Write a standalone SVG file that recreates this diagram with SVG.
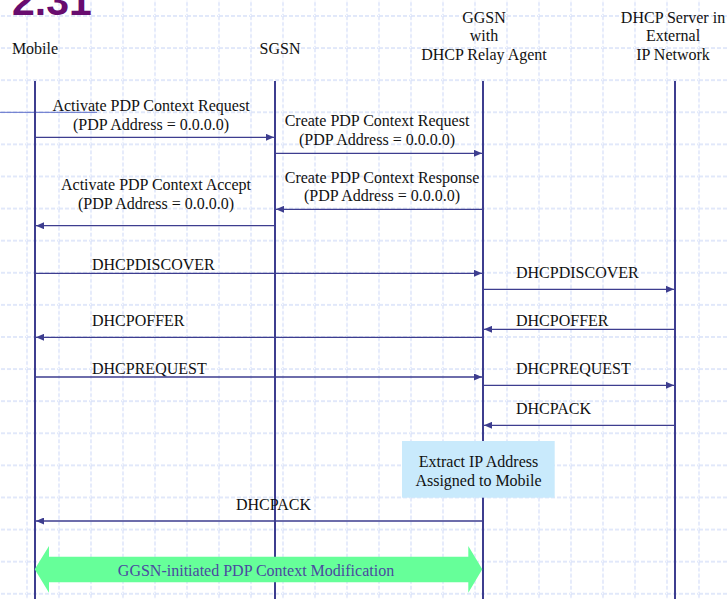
<svg xmlns="http://www.w3.org/2000/svg" width="727" height="599" viewBox="0 0 727 599">
<style>
  text { font-family: "Liberation Serif", "Times New Roman", serif; font-size: 16px; fill: #111; }
  .mid { text-anchor: middle; }
  .life { stroke: #3d3d8f; stroke-width: 2; fill: none; }
  .msg { stroke: #3d3d8f; stroke-width: 1.3; fill: none; marker-end: url(#ah); }
  .gridline { stroke: #d8e1f9; stroke-width: 1.3; stroke-dasharray: 4 2; fill: none; }
  .title { font-family: "Liberation Sans", Arial, sans-serif; font-weight: bold; font-size: 41px; fill: #680c6e; }
  .proc { fill: #4a4aa0; }
</style>
<defs>
  <pattern id="grid" x="26" y="15" width="32" height="32.1" patternUnits="userSpaceOnUse">
    <path class="gridline" d="M1 1 H33 M1 1 V33.1"/>
  </pattern>
  <marker id="ah" viewBox="0 0 8 7" refX="8" refY="3.5" markerWidth="8" markerHeight="7" markerUnits="userSpaceOnUse" orient="auto">
    <path d="M0 0 L8 3.5 L0 7 Z" fill="#3d3d8f"/>
  </marker>
</defs>
<rect width="727" height="599" fill="#ffffff"/>
<rect width="727" height="599" fill="url(#grid)"/>
<text class="title" x="12" y="15">2.31</text>
<line x1="0" y1="112.3" x2="97" y2="112.3" stroke="#5b6bc9" stroke-width="1"/>

<g id="mobile">
  <text class="mid" x="35" y="54">Mobile</text>
  <line class="life" x1="35" y1="81" x2="35" y2="599"/>
</g>
<g id="sgsn">
  <text class="mid" x="280" y="54">SGSN</text>
  <line class="life" x1="275" y1="81" x2="275" y2="599"/>
</g>
<g id="ggsn">
  <text class="mid" x="484" y="22.5">GGSN</text>
  <text class="mid" x="484" y="41">with</text>
  <text class="mid" x="484" y="60">DHCP Relay Agent</text>
  <line class="life" x1="483" y1="81" x2="483" y2="599"/>
</g>
<g id="dhcp-server">
  <text class="mid" x="673" y="22.5">DHCP Server in</text>
  <text class="mid" x="673" y="41">External</text>
  <text class="mid" x="673" y="60">IP Network</text>
  <line class="life" x1="675" y1="81" x2="675" y2="599"/>
</g>

<g id="connectors">
  <text class="mid" x="151" y="111">Activate PDP Context Request</text>
  <text class="mid" x="151" y="130">(PDP Address = 0.0.0.0)</text>
  <line class="msg" x1="36" y1="137.3" x2="274" y2="137.3"/>

  <text class="mid" x="377" y="126">Create PDP Context Request</text>
  <text class="mid" x="377" y="145">(PDP Address = 0.0.0.0)</text>
  <line class="msg" x1="276" y1="153.3" x2="482" y2="153.3"/>

  <text class="mid" x="382" y="182.5">Create PDP Context Response</text>
  <text class="mid" x="382" y="201">(PDP Address = 0.0.0.0)</text>
  <line class="msg" x1="482" y1="209.3" x2="276" y2="209.3"/>

  <text class="mid" x="156" y="190">Activate PDP Context Accept</text>
  <text class="mid" x="156" y="209">(PDP Address = 0.0.0.0)</text>
  <line class="msg" x1="274" y1="225.7" x2="36" y2="225.7"/>

  <text x="92" y="270">DHCPDISCOVER</text>
  <line class="msg" x1="36" y1="273.3" x2="482" y2="273.3"/>
  <text x="516" y="278">DHCPDISCOVER</text>
  <line class="msg" x1="484" y1="289.3" x2="674" y2="289.3"/>

  <text x="516" y="326">DHCPOFFER</text>
  <line class="msg" x1="674" y1="329.3" x2="484" y2="329.3"/>
  <text x="92" y="326">DHCPOFFER</text>
  <line class="msg" x1="482" y1="337.3" x2="36" y2="337.3"/>

  <text x="92" y="374">DHCPREQUEST</text>
  <line class="msg" x1="36" y1="377" x2="482" y2="377"/>
  <text x="516" y="374">DHCPREQUEST</text>
  <line class="msg" x1="484" y1="385.3" x2="674" y2="385.3"/>

  <text x="516" y="414">DHCPACK</text>
  <line class="msg" x1="674" y1="425.3" x2="484" y2="425.3"/>

  <text x="236" y="510">DHCPACK</text>
  <line class="msg" x1="482" y1="521" x2="36" y2="521"/>
</g>

<g id="extract-box">
  <rect x="402" y="441" width="152.7" height="56.7" fill="#c9eafc"/>
  <text class="mid" x="478.5" y="466.5">Extract IP Address</text>
  <text class="mid" x="478.5" y="485.5">Assigned to Mobile</text>
</g>

<g id="pdp-modification">
  <path d="M34.7 569.3 L49 546 L49 556.7 L468.3 556.7 L468.3 546 L482.3 569.3 L468.3 592.7 L468.3 582.3 L49 582.3 L49 592.7 Z" fill="#66ff99"/>
  <text class="mid proc" x="256" y="575.7">GGSN-initiated PDP Context Modification</text>
</g>
</svg>
